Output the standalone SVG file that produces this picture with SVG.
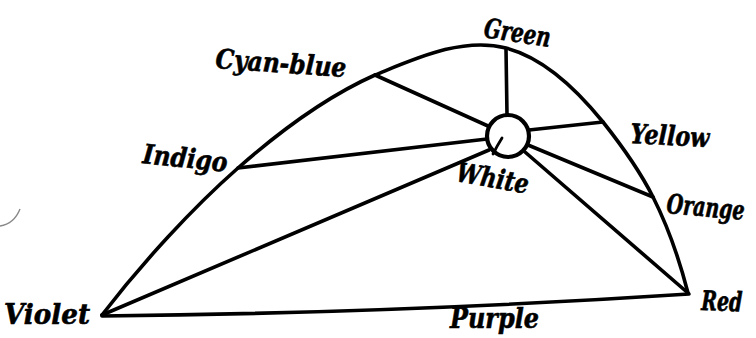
<svg xmlns="http://www.w3.org/2000/svg" width="756" height="338" viewBox="0 0 756 338">
  <style>
    .ln { fill: none; stroke: #000; stroke-width: 3.6; stroke-linecap: round; stroke-linejoin: round; }
    .lb { font-family: "DejaVu Serif", "Liberation Serif", serif; font-weight: bold; font-style: italic; font-size: 27px; fill: #000; stroke: #000; stroke-width: 0.6; }
    .sm { font-size: 20px; stroke-width: 0.5; }
  </style>
  <rect width="756" height="338" fill="#fff"/>
  <g id="connectors">
    <path class="ln" d="M102,315 C142,263 192.5,208 238,168 C283.5,128 330,95 375,75 C417,58 462,37 506,48 C545,58 578,91 603,122 C621.6,145.4 639.5,170.3 653,197 C668.3,227.3 679.5,260 688,293"/>
    <path class="ln" d="M102,316 Q400,313 689,294"/>
    <line class="ln" x1="375" y1="75" x2="488" y2="126"/>
    <line class="ln" x1="506" y1="49" x2="507" y2="115"/>
    <line class="ln" x1="603" y1="122" x2="529" y2="130"/>
    <line class="ln" x1="238" y1="168" x2="487" y2="139"/>
    <line class="ln" x1="102" y1="315" x2="489" y2="150"/>
    <line class="ln" x1="653" y1="197" x2="528" y2="145"/>
    <line class="ln" x1="688" y1="293" x2="525" y2="152"/>
  </g>
  <g id="white">
    <circle cx="508" cy="136" r="21" fill="#fff" stroke="#000" stroke-width="4.2"/>
    <path d="M502,138 Q497,146 493,154" fill="none" stroke="#000" stroke-width="2.8" stroke-linecap="round"/>
    <text class="lb" x="455" y="181" textLength="73" lengthAdjust="spacingAndGlyphs" transform="rotate(10 455 181)">White</text>
  </g>
  <g id="green">
    <text class="lb" x="483" y="37" textLength="67" lengthAdjust="spacingAndGlyphs" transform="rotate(8.5 483 37)">Green</text>
  </g>
  <g id="cyan-blue">
    <text class="lb" x="215" y="68" textLength="131" lengthAdjust="spacingAndGlyphs" transform="rotate(4 215 68)">Cyan-blue</text>
  </g>
  <g id="indigo">
    <text class="lb" x="142" y="163" textLength="85" lengthAdjust="spacingAndGlyphs" transform="rotate(6 142 163)">Indigo</text>
  </g>
  <g id="yellow">
    <text class="lb" x="630" y="143" textLength="79" lengthAdjust="spacingAndGlyphs" transform="rotate(3 630 143)">Yellow</text>
  </g>
  <g id="orange">
    <text class="lb sm" x="0" y="0" textLength="78" lengthAdjust="spacingAndGlyphs" transform="translate(666 213) rotate(5) scale(1 1.35)">Orange</text>
  </g>
  <g id="red">
    <text class="lb sm" x="0" y="0" textLength="41" lengthAdjust="spacingAndGlyphs" transform="translate(701 310) rotate(2) scale(1 1.35)">Red</text>
  </g>
  <g id="purple">
    <text class="lb" x="450" y="328" textLength="89" lengthAdjust="spacingAndGlyphs">Purple</text>
  </g>
  <g id="violet">
    <text class="lb" x="4" y="324" textLength="86" lengthAdjust="spacingAndGlyphs">Violet</text>
  </g>
  <path d="M0,226 Q14,224 20,209" fill="none" stroke="#888" stroke-width="1.4"/>
</svg>
